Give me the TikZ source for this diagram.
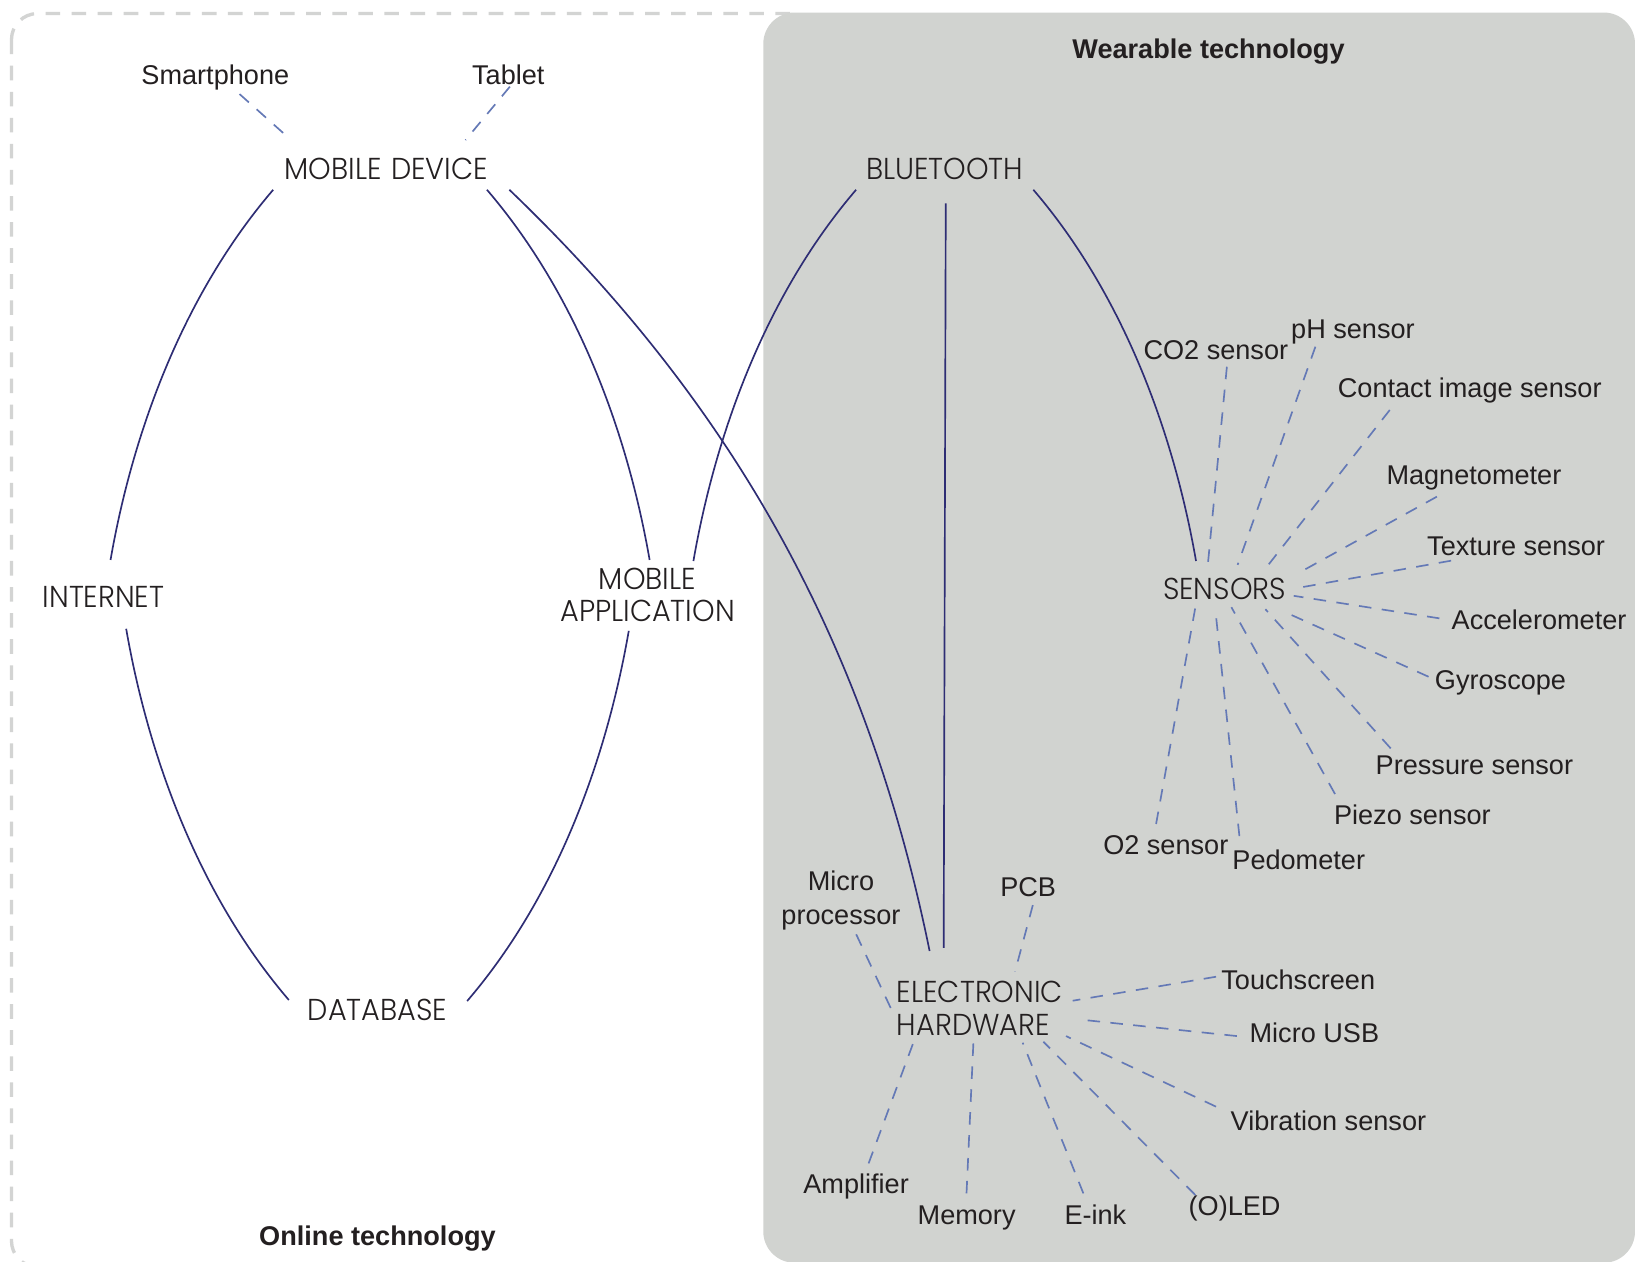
\documentclass[tikz,border=0pt]{standalone}
\usepackage{fontspec}
\setmainfont{Liberation Sans}
\newfontfamily\capsfont{Poppins Light}[FakeStretch=0.95, WordSpace=1.2]
\usetikzlibrary{calc}
\definecolor{ink}{HTML}{231F20}
\definecolor{navy}{HTML}{2E2D74}
\definecolor{spokeblue}{HTML}{6479B6}
\definecolor{panelgrey}{HTML}{D1D3D0}
\definecolor{framegrey}{HTML}{D3D4D3}
\begin{document}
\begin{tikzpicture}[x=1pt,y=1pt,
  lab/.style={font=\fontsize{26}{32}\selectfont, text=ink, inner sep=0pt, anchor=base, align=center},
  title/.style={font=\bfseries\fontsize{26}{32}\selectfont, text=ink, inner sep=0pt, anchor=base},
  hub/.style={font=\capsfont\fontsize{29}{31.4}\selectfont, text=ink, inner sep=0pt, anchor=base, align=center},
  link/.style={draw=navy, line width=1.6pt},
  spoke/.style={draw=spokeblue, line width=1.6pt, dash pattern=on 12pt off 10pt},
]
\useasboundingbox (0,0) rectangle (1568,-1210);
\clip (0,0) rectangle (1568,-1210);
\fill[white] (0,0) rectangle (1568,-1210);

% panels
\draw[framegrey, line width=3.2pt, dash pattern=on 14pt off 11pt, rounded corners=25pt] (11,-13) rectangle (786,-1215);
\fill[panelgrey, rounded corners=30pt] (732,-12) rectangle (1568,-1211);

\node[title] (wt) at (1159,-56.3) {Wearable technology};
\node[title] (ot) at (362,-1194) {Online technology};

% hubs (multi-line hubs sit on the baseline of their last line)
\node[hub] (md) at (370.4,-172.5) {MOBILE DEVICE};
\node[hub] (bt) at (906,-172.4) {BLUETOOTH};
\node[hub] (inet) at (99.3,-582.6) {INTERNET};
\node[hub] (ma) at (621,-596.4) {MOBILE\\APPLICATION};
\node[hub] (db) at (362,-979) {DATABASE};
\node[hub] (sens) at (1174.3,-574.8) {SENSORS};
\node[hub, anchor=base west, align=left] (eh) at (860,-992.6) {ELECTRONIC\\HARDWARE};

% leaf labels
\node[lab] (sm) at (206.5,-81.3) {Smartphone};
\node[lab] (tab) at (487.5,-81.3) {Tablet};
\node[lab] (co2) at (1166,-344.3) {CO2 sensor};
\node[lab] (ph) at (1297.5,-324.3) {pH sensor};
\node[lab] (cis) at (1409.5,-381.3) {Contact image sensor};
\node[lab] (mag) at (1413.5,-464.3) {Magnetometer};
\node[lab] (tex) at (1454,-532.3) {Texture sensor};
\node[lab] (acc) at (1476,-603.3) {Accelerometer};
\node[lab] (gyr) at (1439,-661.3) {Gyroscope};
\node[lab] (prs) at (1414,-742.3) {Pressure sensor};
\node[lab] (pie) at (1354.5,-790.3) {Piezo sensor};
\node[lab] (ped) at (1245.5,-834.3) {Pedometer};
\node[lab] (o2) at (1118,-819.3) {O2 sensor};
\node[lab] (mp) at (806.5,-886.3) {Micro\\processor};
\node[lab] (pcb) at (986,-859.3) {PCB};
\node[lab] (ts) at (1245,-949.3) {Touchscreen};
\node[lab] (usb) at (1260.5,-999.3) {Micro USB};
\node[lab] (vib) at (1274,-1084.3) {Vibration sensor};
\node[lab] (led) at (1184,-1165.3) {(O)LED};
\node[lab] (eink) at (1050.5,-1174.3) {E-ink};
\node[lab] (mem) at (927,-1174.3) {Memory};
\node[lab] (amp) at (821,-1144.3) {Amplifier};

% solid links
\draw[link] ([shift={(-108.4,-9.5)}]md.base) .. controls +(-90,-105) and +(20,115) .. ([shift={(6.7,45.6)}]inet.base);
\draw[link] ([shift={(21.7,-20.4)}]inet.base) .. controls +(20,-115) and +(-90,105) .. ([shift={(-85,20)}]db.base);
\draw[link] ([shift={(96.6,-9.5)}]md.base) .. controls +(90,-105) and +(-20,115) .. ([shift={(2,59.4)}]ma.base);
\draw[link] ([shift={(-18,-8.6)}]ma.base) .. controls +(-20,-115) and +(90,105) .. ([shift={(86,19)}]db.base);
\draw[link] ([shift={(118.1,-9.5)}]md.base) .. controls +(216,-207) and +(-60,294) .. ([shift={(31.5,80.6)}]eh.base west);
\draw[link] ([shift={(-85,-9.6)}]bt.base) .. controls +(-90,-105) and +(20,115) .. ([shift={(44,58.4)}]ma.base);
\draw[link] ([shift={(1,-22.6)}]bt.base) -- ([shift={(45,83.6)}]eh.base west);
\draw[link] ([shift={(85,-9.6)}]bt.base) .. controls +(90,-105) and +(-20,115) .. ([shift={(-27.3,36.8)}]sens.base);

% mobile device spokes
\draw[spoke] ([shift={(23.2,-8.9)}]sm.base) -- ([shift={(-93,39.8)}]md.base);
\draw[spoke] ([shift={(1.5,-1.8)}]tab.base) -- ([shift={(76,38.2)}]md.base);

% sensor spokes
\draw[spoke] ([shift={(10.6,-7.4)}]co2.base) -- ([shift={(-16,33)}]sens.base);
\draw[spoke] ([shift={(-36,-8.2)}]ph.base) -- ([shift={(12.6,33.1)}]sens.base);
\draw[spoke] ([shift={(-76.7,-11.9)}]cis.base) -- ([shift={(40.8,31.5)}]sens.base);
\draw[spoke] ([shift={(-35.5,-12)}]mag.base) -- ([shift={(69.6,24.5)}]sens.base);
\draw[spoke] ([shift={(-62.4,-5.4)}]tex.base) -- ([shift={(74.4,11.7)}]sens.base);
\draw[spoke] ([shift={(-95.6,10.3)}]acc.base) -- ([shift={(66.4,3.4)}]sens.base);
\draw[spoke] ([shift={(-69,12.3)}]gyr.base) -- ([shift={(63.8,-14.8)}]sens.base);
\draw[spoke] ([shift={(-80.3,24.6)}]prs.base) -- ([shift={(39.2,-9.4)}]sens.base);
\draw[spoke] ([shift={(-74.2,28.8)}]pie.base) -- ([shift={(6.6,-7.5)}]sens.base);
\draw[spoke] ([shift={(-56.9,32.5)}]ped.base) -- ([shift={(-8.7,-10.7)}]sens.base);
\draw[spoke] ([shift={(-9.3,29.1)}]o2.base) -- ([shift={(-27.9,-7.5)}]sens.base);

% hardware spokes
\draw[spoke] ([shift={(14.6,-9.7)}]mp.base) -- ([shift={(-4.9,24)}]eh.base west);
\draw[spoke] ([shift={(4.5,-8.7)}]pcb.base) -- ([shift={(113.4,60.7)}]eh.base west);
\draw[spoke] ([shift={(-78.8,12.6)}]ts.base) -- ([shift={(168.7,32.9)}]eh.base west);
\draw[spoke] ([shift={(-74.3,5.7)}]usb.base) -- ([shift={(174.2,15)}]eh.base west);
\draw[spoke] ([shift={(-107.8,23)}]vib.base) -- ([shift={(162.3,-1)}]eh.base west);
\draw[spoke] ([shift={(-37.7,19.3)}]led.base) -- ([shift={(140.6,-6.4)}]eh.base west);
\draw[spoke] ([shift={(-11.5,29.8)}]eink.base) -- ([shift={(120.8,-7.4)}]eh.base west);
\draw[spoke] ([shift={(-0.1,29.8)}]mem.base) -- ([shift={(73.5,-7.4)}]eh.base west);
\draw[spoke] ([shift={(12,28.6)}]amp.base) -- ([shift={(15.9,-7.4)}]eh.base west);
\end{tikzpicture}
\end{document}
